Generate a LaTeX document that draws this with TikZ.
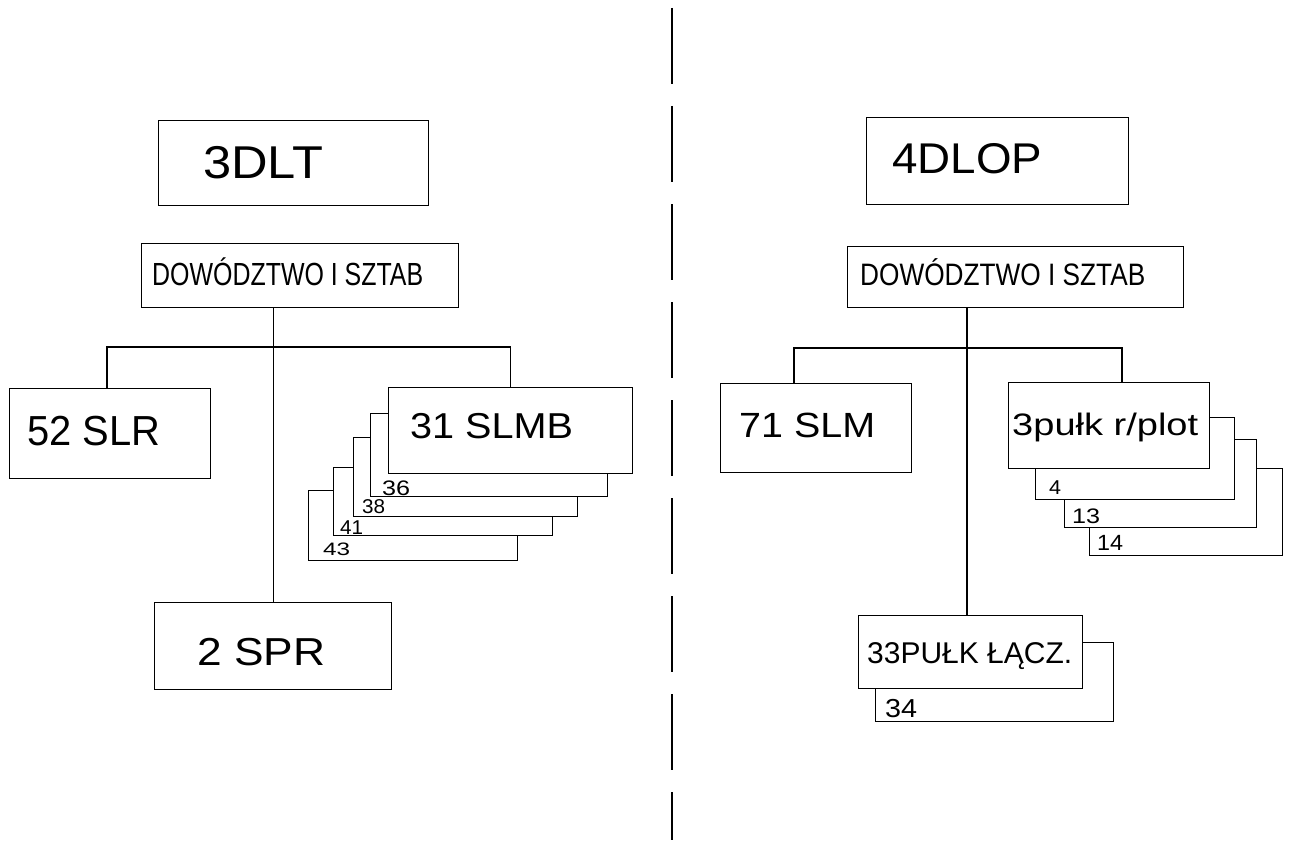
\documentclass[tikz,border=0pt]{standalone}
\usepackage{fontspec}
\setmainfont{Liberation Sans}
\usepackage{graphicx}
\newcommand\hw[3]{\resizebox{#1pt}{\height}{\fontsize{#2pt}{#2pt}\selectfont #3}}
\newcommand\bx[5]{\node[box, minimum width={#4pt-#2pt}, minimum height={#5pt-#3pt}] (#1) at (#2,#3) {};}
\newcommand\tx[4]{\node[txt] (#1) at (#2,#3) {#4};}
\begin{document}
\begin{tikzpicture}[x=1pt,y=-1pt,
  box/.style={draw, line width=1.4pt, fill=white, rectangle, inner sep=0pt, anchor=north west},
  txt/.style={anchor=base west, inner sep=0pt},
  conn/.style={line width=1.4pt},
  sep/.style={line width=1.8pt, dash pattern=on 76pt off 22pt}]
\useasboundingbox[fill=white] (0,0) rectangle (1289,840);

% separator
\coordinate (sepTop) at (672,8);
\coordinate (sepBot) at (672,840);
\draw[sep] (sepTop) -- (sepBot);

% ---------- left ----------
\bx{b3dlt}{158}{120}{428}{205}
\tx{t3dlt}{203}{178}{\hw{120}{46}{3DLT}}
\bx{dowL}{141}{243}{458}{307}
\tx{tdowL}{152}{285}{\hw{271}{32}{DOWÓDZTWO I SZTAB}}
\bx{slr52}{9}{388}{210}{478}
\tx{tslr}{27}{445}{\hw{133}{42}{52 SLR}}
\bx{s43}{308}{490}{517}{560}
\tx{t43}{323}{555}{\hw{27}{18}{43}}
\bx{s41}{333}{467}{552}{535}
\tx{t41}{340}{534}{\hw{23}{20}{41}}
\bx{s38}{353}{437}{577}{516}
\tx{t38}{362}{513}{\hw{23}{20}{38}}
\bx{s36}{370}{413}{607}{496}
\tx{t36}{382}{495}{\hw{28}{21}{36}}
\bx{slmb31}{388}{387}{632}{473}
\tx{tslmb}{410}{438}{\hw{163}{36}{31 SLMB}}
\bx{spr2}{154}{602}{391}{689}
\tx{tspr}{197}{665}{\hw{128}{39}{2 SPR}}

\coordinate (jL) at (273,347);
\draw[conn] (spr2.north |- dowL.south) -- (spr2.north);
\draw[conn] (slr52.north west) ++(98,0) |- (jL) -| (slmb31.north);

% ---------- right ----------
\bx{b4dlop}{866}{117}{1128}{204}
\tx{t4dlop}{892}{173}{\hw{150}{43}{4DLOP}}
\bx{dowR}{847}{246}{1183}{307}
\tx{tdowR}{860}{285}{\hw{285}{31}{DOWÓDZTWO I SZTAB}}
\bx{slm71}{720}{383}{911}{472}
\tx{tslm}{739}{437}{\hw{136}{35}{71 SLM}}
\bx{r14}{1089}{468}{1282}{555}
\tx{t14}{1097}{550}{\hw{26}{22}{14}}
\bx{r13}{1064}{439}{1256}{527}
\tx{t13}{1072}{523}{\hw{28}{21}{13}}
\bx{r4}{1035}{417}{1234}{499}
\tx{t4}{1049}{494}{\hw{12}{20}{4}}
\bx{pulk3}{1008}{382}{1209}{468}
\tx{tpulk}{1012}{435}{\hw{186}{31}{3pułk r/plot}}
\bx{r34}{875}{642}{1113}{721}
\tx{t34}{885}{717}{\hw{32}{26}{34}}
\bx{lacz33}{858}{615}{1082}{688}
\tx{tlacz}{867}{663}{\hw{205}{30}{33PUŁK ŁĄCZ.}}

\coordinate (jR) at (967,348);
\draw[conn] (jR |- dowR.south) -- (jR |- lacz33.north);
\draw[conn] (slm71.north west) ++(74,0) |- (jR);
\draw[conn] (pulk3.north west) ++(114,0) |- (jR);
\end{tikzpicture}
\end{document}
